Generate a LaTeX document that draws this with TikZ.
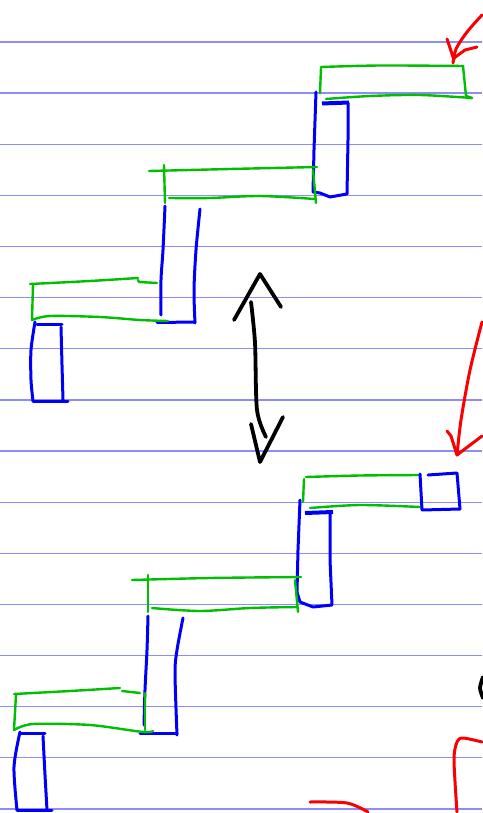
\documentclass[tikz,border=0pt]{standalone}
\begin{document}
\begin{tikzpicture}[x=1pt,y=-1pt,
  rule/.style={draw=ruleblue, line width=1.3pt},
  gpen/.style={draw=pengreen, line width=2.4pt, line cap=round, line join=round},
  bpen/.style={draw=penblue, line width=3pt, line cap=round, line join=round},
  kpen/.style={draw=black, line width=3.8pt, line cap=round, line join=round},
  rpen/.style={draw=penred, line width=3pt, line cap=round, line join=round}]
\definecolor{ruleblue}{RGB}{140,140,250}
\definecolor{pengreen}{RGB}{0,190,0}
\definecolor{penblue}{RGB}{0,0,250}
\definecolor{penred}{RGB}{250,0,0}
\useasboundingbox (0,0) rectangle (482,813);
\fill[white] (0,0) rectangle (482,813);

% ruled paper
\foreach \k in {0,...,15}
  \draw[rule] (0,{42+51.13*\k}) -- (482,{42+51.13*\k});

% ===== upper staircase =====
% top tread
\draw[gpen] plot[smooth] coordinates {(321,67) (380,65.5) (463,66)};
\draw[gpen] (321,68) -- (320,93);
\draw[gpen] (463,66) -- (466,96) -- (472,98);
\draw[gpen] plot[smooth] coordinates {(326,99) (370,96) (420,95) (472,98)};
% top riser
\draw[bpen] (316,92) -- (314,150) -- (313,192) -- (320,193) -- (330,197) -- (347,194) -- (348,140) -- (348,103);
\draw[penblue, line width=4pt] (322,103.5) -- (349,102.5);
% middle tread
\draw[gpen] plot[smooth] coordinates {(149,171) (230,169) (317,167)};
\draw[gpen] (164,165) -- (165,203);
\draw[gpen] plot[smooth] coordinates {(169,198) (210,198) (260,196) (315,199)};
\draw[gpen] (313,170) -- (316,203);
% middle riser
\draw[bpen] plot[smooth] coordinates {(165,206) (163,250) (161,280) (161,315)};
\draw[bpen] plot[smooth] coordinates {(200,209) (196,250) (194,290) (195,323)};
\draw[bpen] (157,322.5) -- (195,322);
% lower tread
\draw[gpen] plot[smooth] coordinates {(30,284) (90,281) (138,278)};
\draw[gpen] (138,280) -- (139,282) -- (157,283);
\draw[gpen] (33,285) -- (32,320);
\draw[gpen] plot[smooth] coordinates {(32,320) (50,316) (100,317) (140,320) (168,321)};
% lower riser
\draw[bpen] (37,324) -- (62,324);
\draw[bpen] plot[smooth] coordinates {(35,322) (31,350) (31,380) (33,401)};
\draw[bpen] (33,401) -- (68,401);
\draw[bpen] (61,327) -- (62,365) -- (63,400);

% ===== double arrow =====
\draw[kpen] (234,320) -- (260,274) -- (281,307);
\draw[kpen] plot[smooth] coordinates {(251,302) (255,343) (257,410) (266,437)};
\draw[kpen] (251,424) -- (260,462) -- (283,417);

% ===== lower staircase =====
% top tread
\draw[gpen] plot[smooth] coordinates {(306,477) (360,475.5) (420,475)};
\draw[gpen] (304,479) -- (303,502);
\draw[gpen] plot[smooth] coordinates {(310,508) (360,505) (420,507)};
% extra block
\draw[bpen] (420,474) -- (422,510) -- (460,509) -- (457,473) -- (428,475);
% top riser
\draw[bpen] (300,500) -- (298,550) -- (297,592) -- (300,602) -- (313,607) -- (332,605) -- (330,560) -- (330,513);
\draw[penblue, line width=4pt] (305,513) -- (333,512);
% middle tread
\draw[gpen] plot[smooth] coordinates {(132,580) (210,578) (301,577)};
\draw[gpen] (148,575) -- (148,612);
\draw[gpen] plot[smooth] coordinates {(152,608) (200,611) (250,608) (297,607)};
\draw[gpen] (295,580) -- (298,612);
% middle riser
\draw[bpen] plot[smooth] coordinates {(148,616) (147,650) (145,690) (144,725)};
\draw[bpen] plot[smooth] coordinates {(183,618) (177,650) (175,673) (177,735)};
\draw[bpen] (140,733) -- (177,733);
\draw[gpen] (145,693) -- (145,730);
% lower tread
\draw[gpen] plot[smooth] coordinates {(14,694) (70,691) (120,688)};
\draw[gpen] (122,691) -- (140,693);
\draw[gpen] (16,695) -- (14,730);
\draw[gpen] plot[smooth] coordinates {(14,730) (33,724) (90,725) (143,732) (153,731)};
% lower riser
\draw[bpen] (20,733) -- (45,733);
\draw[bpen] plot[smooth] coordinates {(20,732) (14,767) (17,810)};
\draw[bpen] (17,810) -- (52,810);
\draw[bpen] (43,736) -- (45,775) -- (47,810);

% ===== red marks =====
\draw[rpen] plot[smooth] coordinates {(482,15) (467,32) (456,49) (453,63)};
\draw[rpen] (447,39) -- (454,60);
\draw[rpen] (454,58) -- (465,50) -- (477,47);
\draw[rpen] plot[smooth] coordinates {(482,322) (470,370) (461,420) (457,455)};
\draw[rpen] (447,431) -- (451,436) -- (457,455) -- (482,436);
\draw[rpen] plot[smooth] coordinates {(310,802) (347,803) (368,812)};
\draw[rpen] plot[smooth] coordinates {(457,812) (454,760) (457,742) (463,738) (482,742)};

% ===== black mark at right edge =====
\draw[kpen] plot[smooth] coordinates {(483,677) (480,688) (483,698)};
\end{tikzpicture}
\end{document}
